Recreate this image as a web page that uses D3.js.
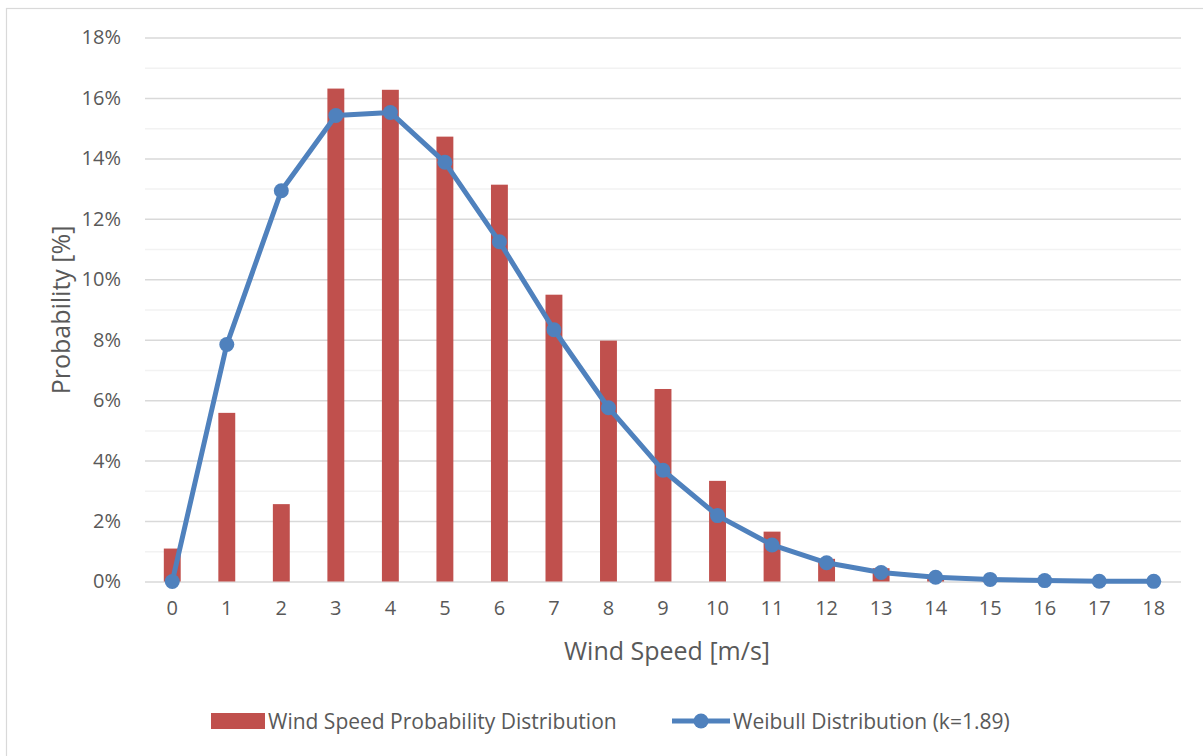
<!DOCTYPE html>
<html>
<head>
<meta charset="utf-8"/>
<script src="https://cdn.jsdelivr.net/npm/d3@7"></script>
<style>
	body { margin:0; background:#fff; }
	text { font-family:"Open Sans", sans-serif; fill:#595959; }
	.tick text { font-size:20px; }
	.axis-title { font-size:25px; }
	.legend text { font-size:21px; }
</style>
</head>
<body>
<script>
	// wind speed bins [m/s]
	var speeds = ["0","1","2","3","4","5","6","7","8","9","10","11","12","13","14","15","16","17","18"];
	// measured probability per bin [%]
	var measured = [1.09, 5.58, 2.56, 16.31, 16.27, 14.72, 13.13, 9.49, 7.97, 6.37, 3.33, 1.65, 0.75, 0.44, 0.12, 0.02, 0, 0, 0];
	// weibull fit [%]
	var weibull = [0, 7.84, 12.93, 15.42, 15.52, 13.87, 11.24, 8.33, 5.75, 3.68, 2.18, 1.21, 0.62, 0.30, 0.14, 0.07, 0.03, 0.01, 0.005];
	var yTicks = [0, 2, 4, 6, 8, 10, 12, 14, 16, 18];
	var yMinor = [1, 3, 5, 7, 9, 11, 13, 15, 17];

	var W = 1203, H = 756;
	var plotLeft = 145, plotRight = 1181, plotTop = 37.5, plotBottom = 581.5;
	var bar_color = "#c0504d";
	var line_color = "#4f81bd";

	var svg = d3.select("body").append("svg")
		.attr("width", W)
		.attr("height", H);

	// chart border
	svg.append("rect")
		.attr("x", 6.5).attr("y", 8.5)
		.attr("width", W + 10).attr("height", H + 10)
		.attr("fill", "none")
		.attr("stroke", "#d9d9d9")
		.attr("stroke-width", 1.2);

	var x = d3.scaleBand()
		.domain(speeds)
		.range([plotLeft, plotRight])
		.paddingInner(0.69)
		.paddingOuter(0.345);

	var y = d3.scaleLinear()
		.domain([0, 18])
		.range([plotBottom, plotTop]);

	// minor gridlines
	svg.append("g")
		.attr("transform", "translate(" + plotLeft + ",0)")
		.call(d3.axisLeft(y).tickValues(yMinor).tickSize(-(plotRight - plotLeft)).tickFormat(""))
		.call(g => g.select(".domain").remove())
		.call(g => g.selectAll("line").attr("stroke", "#f2f2f2").attr("stroke-width", 1.5));

	// major gridlines + labels
	svg.append("g")
		.attr("transform", "translate(" + plotLeft + ",0)")
		.call(d3.axisLeft(y).tickValues(yTicks).tickSize(-(plotRight - plotLeft)).tickPadding(24).tickFormat(d => d + "%"))
		.call(g => g.select(".domain").remove())
		.call(g => g.selectAll("line").attr("stroke", "#d9d9d9").attr("stroke-width", 1.5))
		.call(g => g.selectAll("text").attr("fill", "#595959"));

	// x labels
	svg.append("g")
		.attr("transform", "translate(0," + plotBottom + ")")
		.call(d3.axisBottom(x).tickSize(0).tickPadding(19))
		.call(g => g.select(".domain").remove())
		.call(g => g.selectAll("text").attr("fill", "#595959"));

	// bars
	svg.append("g").selectAll("rect")
		.data(measured)
		.join("rect")
		.attr("x", (d, i) => x(speeds[i]))
		.attr("y", d => y(d))
		.attr("width", x.bandwidth())
		.attr("height", d => y(0) - y(d))
		.attr("fill", bar_color);

	var cx = (d, i) => x(speeds[i]) + x.bandwidth() / 2;

	var line = d3.line()
		.x(cx)
		.y(d => y(d));

	svg.append("path")
		.datum(weibull)
		.attr("d", line)
		.attr("fill", "none")
		.attr("stroke", line_color)
		.attr("stroke-width", 5)
		.attr("stroke-linejoin", "round");

	svg.append("g").selectAll("circle")
		.data(weibull)
		.join("circle")
		.attr("cx", cx)
		.attr("cy", d => y(d))
		.attr("r", 7.5)
		.attr("fill", line_color);

	// axis titles
	svg.append("text")
		.attr("class", "axis-title")
		.attr("x", 667)
		.attr("y", 660)
		.attr("text-anchor", "middle")
		.text("Wind Speed [m/s]");

	svg.append("text")
		.attr("class", "axis-title")
		.attr("transform", "translate(70,310) rotate(-90)")
		.attr("text-anchor", "middle")
		.text("Probability [%]");

	// legend
	var legend = svg.append("g").attr("class", "legend");
	legend.append("rect")
		.attr("x", 211).attr("y", 713)
		.attr("width", 54).attr("height", 16)
		.attr("fill", bar_color);
	legend.append("text")
		.attr("x", 268).attr("y", 729)
		.text("Wind Speed Probability Distribution");
	legend.append("line")
		.attr("x1", 672).attr("x2", 730)
		.attr("y1", 721).attr("y2", 721)
		.attr("stroke", line_color)
		.attr("stroke-width", 5);
	legend.append("circle")
		.attr("cx", 701).attr("cy", 721)
		.attr("r", 7.5)
		.attr("fill", line_color);
	legend.append("text")
		.attr("x", 733).attr("y", 729)
		.text("Weibull Distribution (k=1.89)");
</script>
</body>
</html>
